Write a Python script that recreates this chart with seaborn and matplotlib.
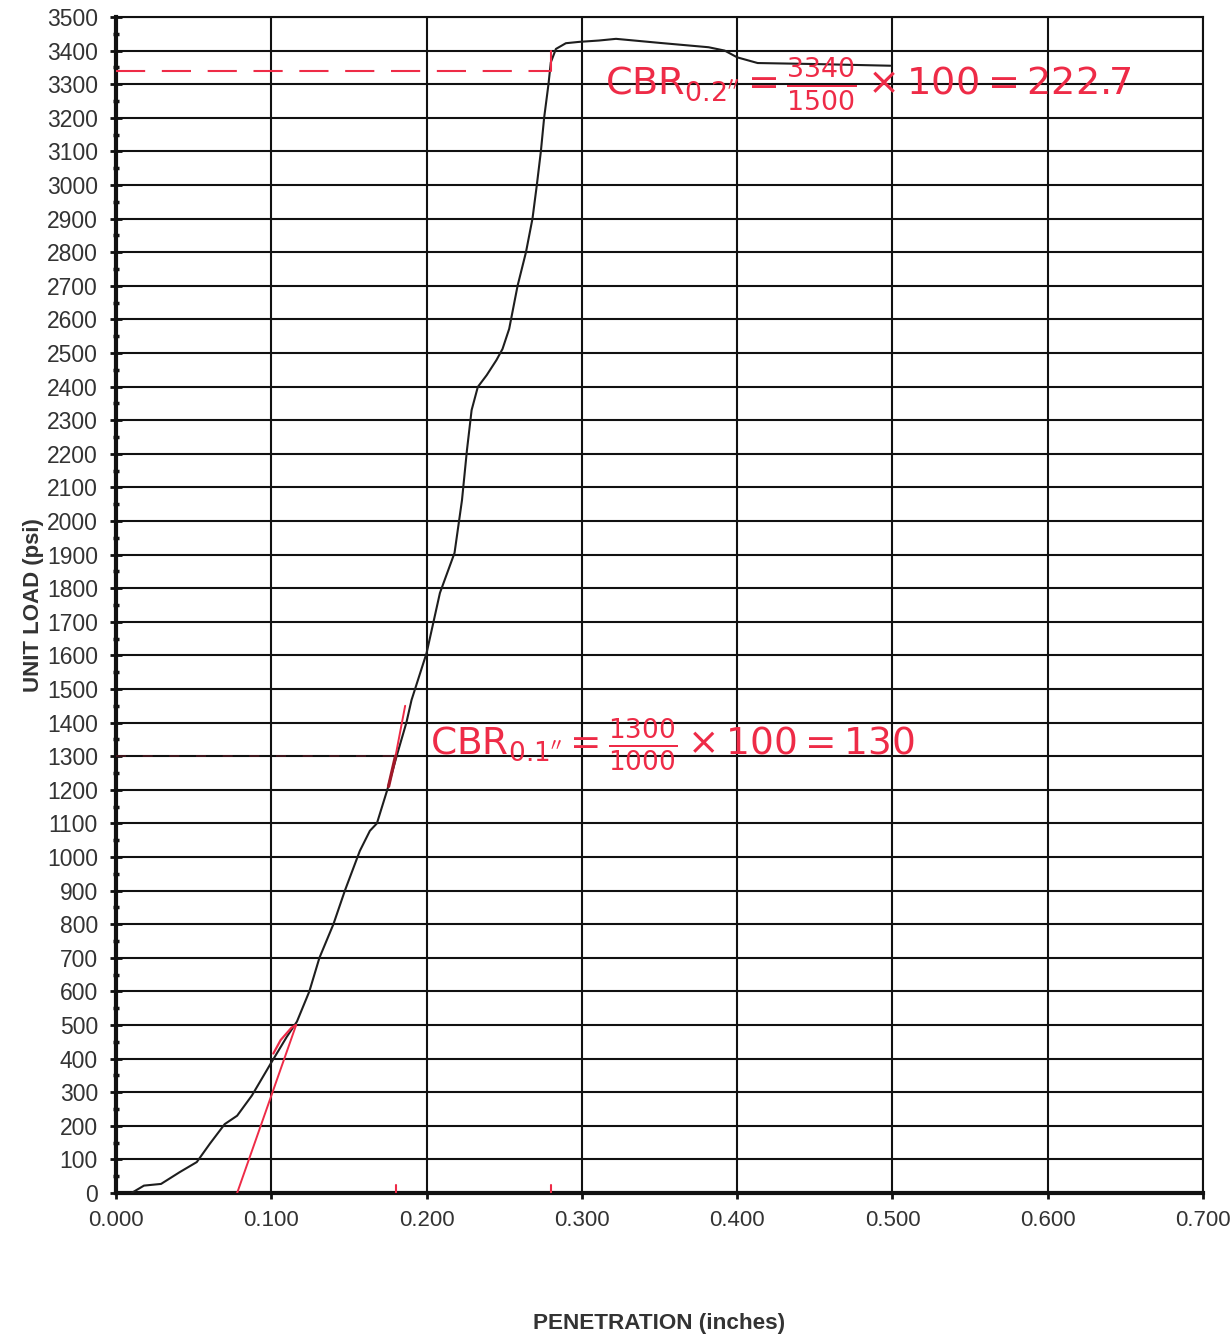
import numpy as np
import pandas as pd
import matplotlib
matplotlib.use("Agg")
import matplotlib.pyplot as plt
import seaborn as sns

# ---- data ----
penetration = [0.010, 0.018, 0.029, 0.041, 0.052, 0.0605, 0.070, 0.078, 0.0875, 0.0996,
               0.110, 0.1165, 0.1245, 0.131, 0.140, 0.1474, 0.157, 0.1635, 0.168, 0.1747,
               0.1807, 0.187, 0.1903, 0.200, 0.2086, 0.218, 0.2228, 0.226, 0.229, 0.233,
               0.2387, 0.245, 0.2489, 0.2532, 0.2586, 0.264, 0.2682, 0.271, 0.2736, 0.2757,
               0.2785, 0.280, 0.2833, 0.2897, 0.2983, 0.311, 0.322, 0.350, 0.3816, 0.392,
               0.400, 0.4132, 0.450, 0.4987]
load = [0, 22, 27, 62, 92, 147, 205, 230, 290, 385,
        465, 510, 600, 700, 800, 900, 1018, 1078, 1100, 1200,
        1300, 1400, 1467, 1607, 1786, 1905, 2062, 2211, 2330, 2399,
        2434, 2479, 2512, 2572, 2700, 2800, 2900, 3000, 3100, 3200,
        3300, 3365, 3405, 3422, 3426, 3430, 3435, 3423, 3410, 3400,
        3380, 3363, 3360, 3355]

tangent_x = [0.078, 0.116]
tangent_y = [0, 500]
arc_x = [0.1013, 0.106, 0.113, 0.116]
arc_y = [415, 455, 492, 500]

cbr1_pen, cbr1_load = 0.180, 1300
cbr2_pen, cbr2_load = 0.280, 3340

x_ticks = [0.0, 0.1, 0.2, 0.3, 0.4, 0.5, 0.6, 0.7]
y_ticks = list(range(0, 3501, 100))

label_x = "PENETRATION (inches)"
label_y = "UNIT LOAD (psi)"
note_top = r"$\mathrm{CBR}_{0.2''}=\frac{3340}{1500}\times100=222.7$"
note_bot = r"$\mathrm{CBR}_{0.1''}=\frac{1300}{1000}\times100=130$"

# ---- drawing ----
sns.set_theme(style="white")
plt.rcParams['font.family'] = ['Liberation Sans', 'DejaVu Sans']
plt.rcParams['mathtext.fontset'] = 'dejavusans'

RED = '#ee2b47'
fig = plt.figure(figsize=(12.32, 13.42), dpi=100)
ax = fig.add_axes([0.09416, 0.11103, 0.88231, 0.87630])

df = pd.DataFrame({"pen": penetration, "load": load})
sns.lineplot(data=df, x="pen", y="load", sort=False, estimator=None,
             color='#1e1e1e', lw=1.5, ax=ax, zorder=4)

# red construction lines
ax.plot(tangent_x, tangent_y, color=RED, lw=1.4, zorder=5)
ax.plot(arc_x, arc_y, color=RED, lw=1.6, zorder=5)
ax.plot([0, cbr2_pen], [cbr2_load, cbr2_load], color=RED, lw=1.5,
        linestyle=(0, (14, 8)), zorder=5)
ax.plot([cbr2_pen, cbr2_pen], [cbr2_load, 3400], color=RED, lw=1.5, zorder=5)
ax.plot([0, cbr1_pen], [cbr1_load, cbr1_load], color=RED, lw=1.2, alpha=0.25,
        linestyle=(0, (6, 10)), zorder=5)
ax.plot([0.1862, cbr1_pen], [1450, 1300], color=RED, lw=1.4, zorder=5)
ax.plot([cbr1_pen, 0.1755], [1300, 1210], color='#a01828', lw=2.4, zorder=5)
for xp in (cbr1_pen, cbr2_pen):
    ax.plot([xp, xp], [0, 25], color=RED, lw=1.5, zorder=5)

ax.text(0.315, 3300, note_top, color=RED, fontsize=27.5, va='center', ha='left', zorder=6)
ax.text(0.202, 1335, note_bot, color=RED, fontsize=27, va='center', ha='left', zorder=6)

ax.set_xlim(0, 0.7)
ax.set_ylim(0, 3500)
ax.set_xticks(x_ticks)
ax.set_xticklabels([f"{v:.3f}" for v in x_ticks])
ax.set_yticks(y_ticks)
ax.set_yticklabels([str(v) for v in y_ticks])
ax.set_yticks(np.arange(50, 3500, 100), minor=True)

ax.grid(True, which='major', color='#111111', lw=1.5)
ax.set_axisbelow(True)

for s in ['top', 'right']:
    ax.spines[s].set_color('#111111')
    ax.spines[s].set_linewidth(1.5)
for s in ['left', 'bottom']:
    ax.spines[s].set_color('#111111')
    ax.spines[s].set_linewidth(3)

ax.tick_params(axis='y', which='major', direction='inout', length=8, width=2,
               color='#111111', labelsize=16.5, labelcolor='#333333', pad=9, left=True)
ax.tick_params(axis='y', which='minor', direction='inout', length=5, width=2.5,
               color='#111111', left=True)
ax.tick_params(axis='x', which='major', direction='out', length=4, width=2,
               color='#111111', labelsize=16, labelcolor='#333333', pad=8, bottom=True)

ax.set_xlabel(label_x, fontsize=16.2, fontweight='bold', color='#333333')
ax.set_ylabel(label_y, fontsize=16, fontweight='bold', color='#333333')
ax.xaxis.set_label_coords(0.5, -0.102)
ax.yaxis.set_label_coords(-0.066, 0.5)

fig.savefig("out.png", dpi=100, facecolor='white')
